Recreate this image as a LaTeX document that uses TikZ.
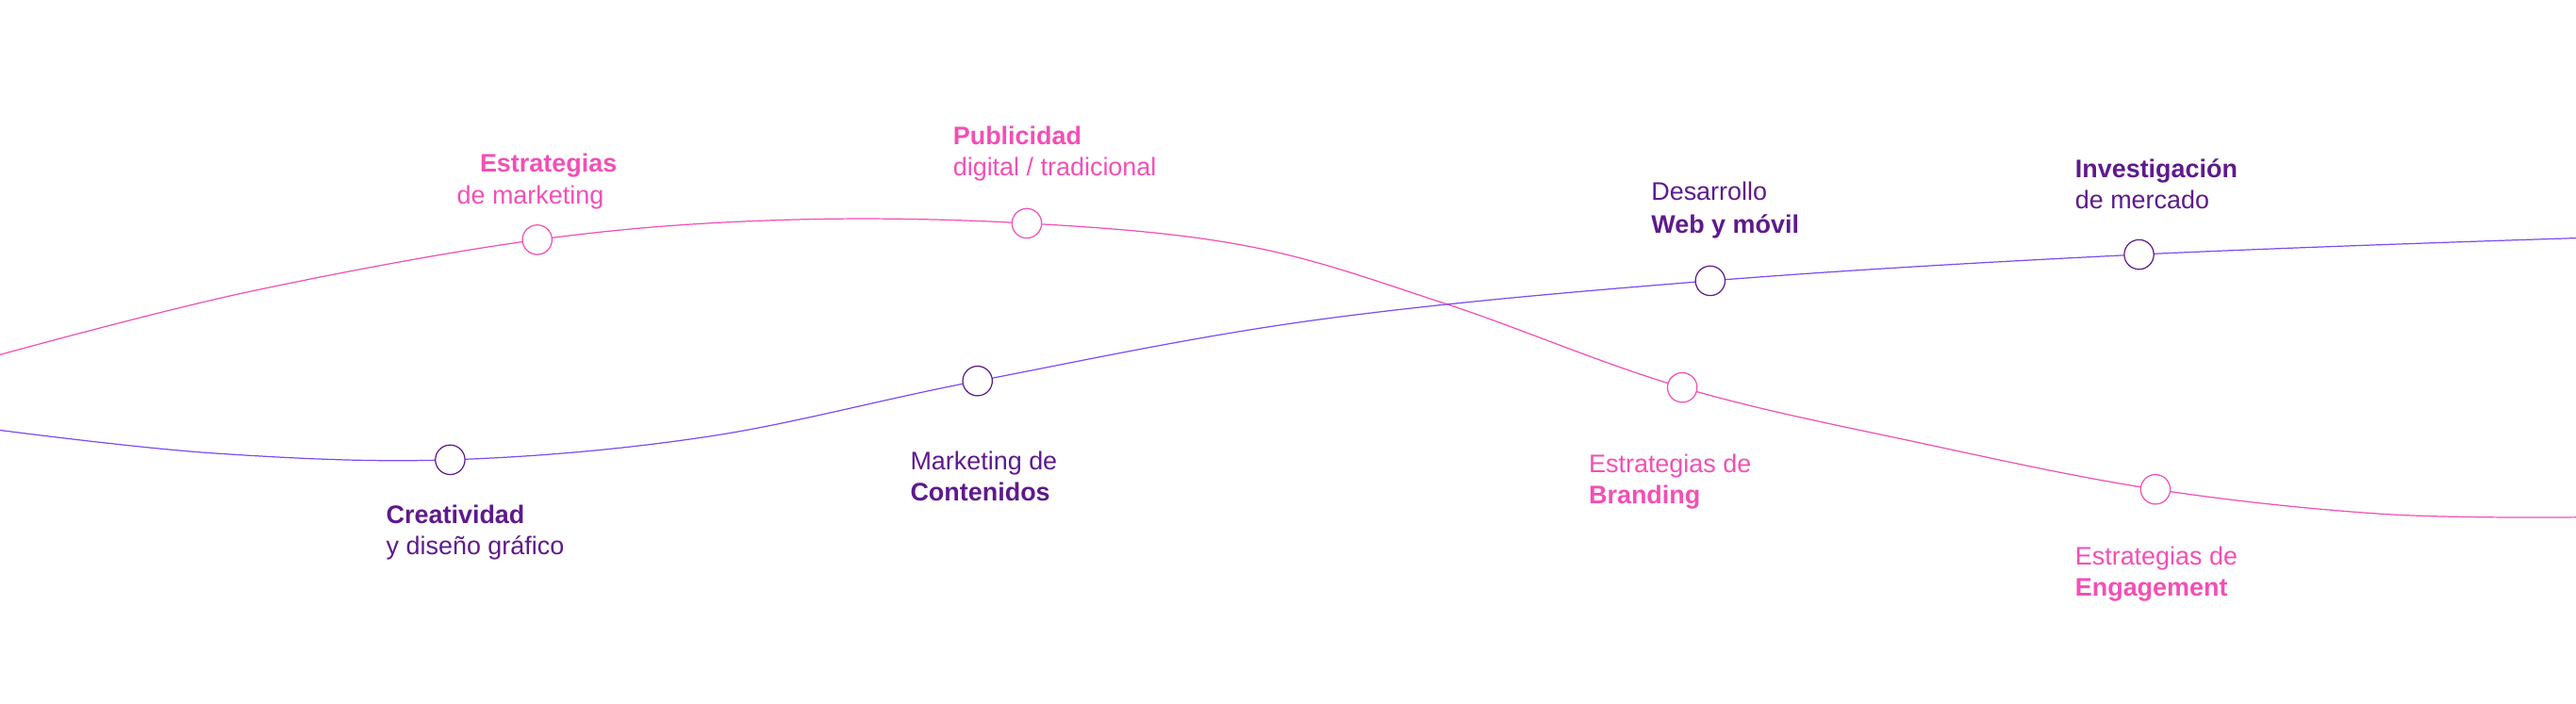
\documentclass[tikz,border=0pt]{standalone}
\usepackage{fontspec}
\setmainfont{Liberation Sans}
\definecolor{pk}{HTML}{F24FB5}
\definecolor{pl}{HTML}{7D4BF5}
\definecolor{dp}{HTML}{5E1A8C}
\begin{document}
\begin{tikzpicture}[x=0.05cm,y=-0.05cm,
  lbl/.style={anchor=base west,inner sep=0,font=\fontsize{22}{26}\selectfont},
  dot/.style={circle,draw,fill=white,minimum size=0.9cm,inner sep=0,line width=1pt}]
\useasboundingbox (0,0) rectangle (1568,428.2);
\draw[pk,line width=1pt] plot[smooth,tension=0.6] coordinates{(0,216) (150,178) (327,146) (475,134) (625,136) (760,150) (880,185) (1024,236) (1170,270) (1312,298) (1450,313) (1568,315)};
\draw[pl,line width=1pt] plot[smooth,tension=0.6] coordinates{(0,262) (130,276) (274,280) (430,266) (595,232) (800,195) (1041,171) (1302,155) (1568,145)};
\node[dot,draw=pk] (a) at (327,146) {};
\node[dot,draw=pk] (b) at (625,136) {};
\node[dot,draw=pk] (c) at (1024,236) {};
\node[dot,draw=pk] (d) at (1312,298) {};
\node[dot,draw=dp] (e) at (274,280) {};
\node[dot,draw=dp] (f) at (595,232) {};
\node[dot,draw=dp] (g) at (1041,171) {};
\node[dot,draw=dp] (h) at (1302,155) {};
\node[lbl,pk,font=\fontsize{22}{26}\selectfont\bfseries] (a1) at (292,105) {Estrategias};
\node[lbl,pk] (a2) at (278,124) {de marketing};
\node[lbl,pk,font=\fontsize{22}{26}\selectfont\bfseries] (b1) at (580,88) {Publicidad};
\node[lbl,pk] (b2) at (580,107) {digital / tradicional};
\node[lbl,dp] (g1) at (1005,122) {Desarrollo};
\node[lbl,dp,font=\fontsize{22}{26}\selectfont\bfseries] (g2) at (1005,142) {Web y móvil};
\node[lbl,dp,font=\fontsize{22}{26}\selectfont\bfseries] (h1) at (1263,108) {Investigación};
\node[lbl,dp] (h2) at (1263,127) {de mercado};
\node[lbl,dp,font=\fontsize{22}{26}\selectfont\bfseries] (e1) at (235,319) {Creatividad};
\node[lbl,dp] (e2) at (235,338) {y diseño gráfico};
\node[lbl,dp] (f1) at (554,286) {Marketing de};
\node[lbl,dp,font=\fontsize{22}{26}\selectfont\bfseries] (f2) at (554,305) {Contenidos};
\node[lbl,pk] (c1) at (967,288) {Estrategias de};
\node[lbl,pk,font=\fontsize{22}{26}\selectfont\bfseries] (c2) at (967,307) {Branding};
\node[lbl,pk] (d1) at (1263,344) {Estrategias de};
\node[lbl,pk,font=\fontsize{22}{26}\selectfont\bfseries] (d2) at (1263,363) {Engagement};
\end{tikzpicture}
\end{document}
